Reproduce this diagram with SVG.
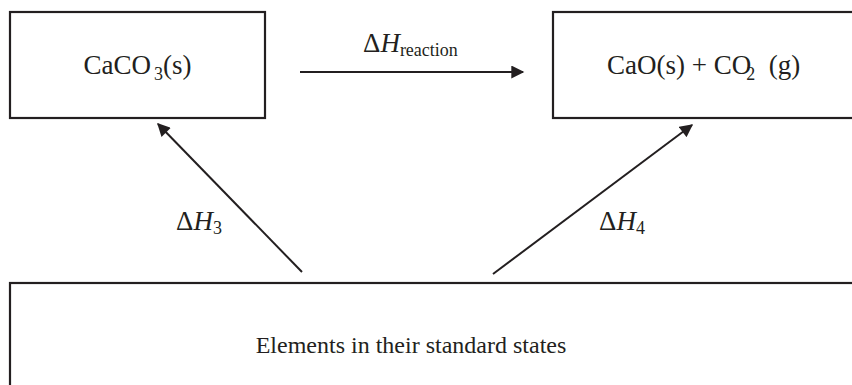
<svg xmlns="http://www.w3.org/2000/svg" width="852" height="385" viewBox="0 0 852 385">
<style>
.box{fill:#fff;stroke:#231f20;stroke-width:2.2}
.t{font-family:"Liberation Serif","Times New Roman",serif;font-size:27px;fill:#231f20}
.e{font-size:24px}
.sub{font-size:18px}
.it{font-style:italic}
.ln{stroke:#231f20;stroke-width:2;fill:none}
</style>
<defs>
<marker id="ah" viewBox="0 0 10 10" refX="9" refY="5" markerWidth="7" markerHeight="6.5" markerUnits="strokeWidth" orient="auto">
<path d="M0,0 L10,5 L0,10 z" fill="#231f20"/>
</marker>
</defs>
<rect width="852" height="385" fill="#fff"/>
<g id="caco3">
<rect class="box" x="10" y="12" width="255" height="106"/>
<text class="t" x="137.5" y="74" text-anchor="middle">CaCO<tspan class="sub" dx="3" dy="6">3</tspan><tspan dy="-6">(s)</tspan></text>
</g>
<g id="cao">
<rect class="box" x="553" y="12" width="320" height="106"/>
<text class="t" x="607" y="74">CaO(s) + CO<tspan class="sub" dx="-5" dy="6">2</tspan><tspan dy="-6" xml:space="preserve">  (g)</tspan></text>
</g>
<g id="elements">
<rect class="box" x="10" y="283" width="870" height="130"/>
<text class="t e" x="411" y="353" text-anchor="middle">Elements in their standard states</text>
</g>
<g id="connectors">
<line class="ln" x1="300" y1="72" x2="523" y2="72" marker-end="url(#ah)"/>
<line class="ln" x1="302" y1="272" x2="158" y2="124" marker-end="url(#ah)"/>
<line class="ln" x1="493" y1="274" x2="692" y2="125" marker-end="url(#ah)"/>
<text class="t" x="363" y="52">Δ<tspan class="it">H</tspan><tspan class="sub" dy="4">reaction</tspan></text>
<text class="t" x="176" y="230">Δ<tspan class="it">H</tspan><tspan class="sub" dy="4">3</tspan></text>
<text class="t" x="599" y="230">Δ<tspan class="it">H</tspan><tspan class="sub" dy="4">4</tspan></text>
</g>
</svg>
